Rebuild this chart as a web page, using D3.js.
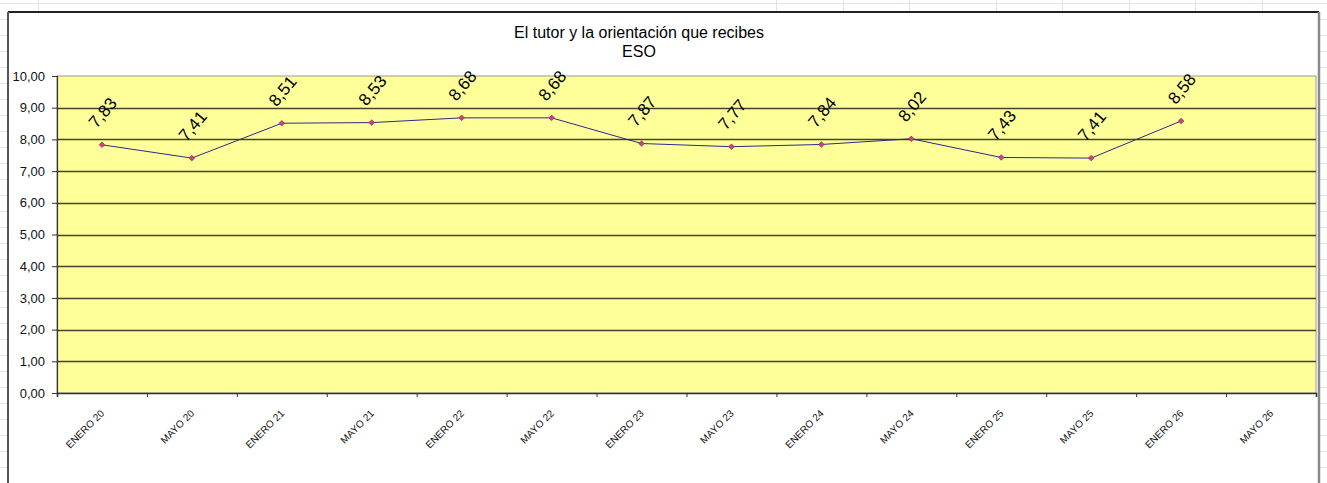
<!DOCTYPE html>
<html lang="es">
<head>
    <meta charset="UTF-8">
    <title>El tutor y la orientación que recibes - ESO</title>
    <script src="https://d3js.org/d3.v7.min.js"></script>
    <style>
        body {
            margin: 0;
            background: #fff;
            overflow: hidden;
        }
        svg text {
            font-family: "Liberation Sans", Arial, sans-serif;
        }
    </style>
</head>
<body>
<div id="chart"></div>

<script>
    const categories = ["ENERO 20", "MAYO 20", "ENERO 21", "MAYO 21", "ENERO 22", "MAYO 22", "ENERO 23",
        "MAYO 23", "ENERO 24", "MAYO 24", "ENERO 25", "MAYO 25", "ENERO 26", "MAYO 26"];
    const values = [7.83, 7.41, 8.51, 8.53, 8.68, 8.68, 7.87, 7.77, 7.84, 8.02, 7.43, 7.41, 8.58];
    const yTicks = [0, 1, 2, 3, 4, 5, 6, 7, 8, 9, 10];
    const titleLines = ["El tutor y la orientación que recibes", "ESO"];

    // spreadsheet cells seen around the chart
    const sheetCols = [38, 776, 843, 909, 996, 1062, 1129, 1195, 1262];

    const width = 1327;
    const height = 483;
    const frame = {left: 8, top: 12, right: 1318};
    const plot = {left: 57, top: 76, right: 1316, bottom: 393};

    const es = d3.formatLocale({decimal: ",", thousands: ".", grouping: [3], currency: ["", "€"]});
    const fmt = es.format(".2f");

    const svg = d3.select("#chart")
        .append("svg")
        .attr("width", width)
        .attr("height", height);

    // ---- spreadsheet background ----
    const sheet = svg.append("g").attr("stroke", "#dfe3ee").attr("stroke-width", 1);
    sheet.append("line")
        .attr("x1", 0).attr("x2", width).attr("y1", 3.5).attr("y2", 3.5);
    sheet.selectAll(".col")
        .data(sheetCols)
        .enter()
        .append("line")
        .attr("x1", d => d + 0.5).attr("x2", d => d + 0.5)
        .attr("y1", 0).attr("y2", frame.top);
    const rows = d3.range(3, height, 16);
    sheet.selectAll(".rowL")
        .data(rows)
        .enter()
        .append("line")
        .attr("x1", 0).attr("x2", frame.left)
        .attr("y1", d => d + 0.5).attr("y2", d => d + 0.5);
    sheet.selectAll(".rowR")
        .data(rows)
        .enter()
        .append("line")
        .attr("x1", frame.right).attr("x2", width)
        .attr("y1", d => d + 0.5).attr("y2", d => d + 0.5);

    // ---- chart area ----
    svg.append("rect")
        .attr("x", frame.left).attr("y", frame.top)
        .attr("width", frame.right - frame.left).attr("height", height - frame.top + 5)
        .attr("fill", "#fff");
    svg.append("line")
        .attr("x1", frame.left).attr("x2", frame.right + 1)
        .attr("y1", frame.top).attr("y2", frame.top)
        .attr("stroke", "#222").attr("stroke-width", 2);
    svg.append("line")
        .attr("x1", frame.left).attr("x2", frame.left)
        .attr("y1", frame.top).attr("y2", height)
        .attr("stroke", "#555").attr("stroke-width", 2);
    svg.append("line")
        .attr("x1", frame.right + 1).attr("x2", frame.right + 1)
        .attr("y1", frame.top).attr("y2", height)
        .attr("stroke", "#8a8a8a").attr("stroke-width", 2.5);

    // title
    svg.append("text")
        .attr("x", 639)
        .attr("text-anchor", "middle")
        .attr("font-size", "16px")
        .attr("fill", "#000")
        .selectAll("tspan")
        .data(titleLines)
        .enter()
        .append("tspan")
        .attr("x", 639)
        .attr("y", (d, i) => 38 + i * 19)
        .text(d => d);

    // scales
    const x = d3.scaleBand()
        .domain(categories)
        .range([plot.left, plot.right]);
    const xEdge = d3.scaleLinear()
        .domain([0, categories.length])
        .range([plot.left, plot.right]);
    const y = d3.scaleLinear()
        .domain([0, 10])
        .range([plot.bottom, plot.top]);

    // plot background
    svg.append("rect")
        .attr("x", plot.left).attr("y", plot.top)
        .attr("width", plot.right - plot.left).attr("height", plot.bottom - plot.top)
        .attr("fill", "#ffff99")
        .attr("stroke", "#9a9a9a")
        .attr("stroke-width", 1);

    // gridlines
    svg.append("g")
        .selectAll("line")
        .data(yTicks.filter(d => d > 0 && d < 10))
        .enter()
        .append("line")
        .attr("x1", plot.left).attr("x2", plot.right)
        .attr("y1", d => Math.round(y(d)) + 0.5).attr("y2", d => Math.round(y(d)) + 0.5)
        .attr("stroke", "#44442a")
        .attr("stroke-width", 1.5);

    // y axis
    const yAxis = svg.append("g")
        .attr("transform", `translate(${plot.left},0)`)
        .call(d3.axisLeft(y).tickValues(yTicks).tickFormat(fmt).tickSize(5).tickPadding(7));
    yAxis.select(".domain").attr("stroke", "#333").attr("stroke-width", 1.2);
    yAxis.selectAll(".tick line").attr("stroke", "#333");
    yAxis.selectAll("text")
        .attr("font-size", "13px")
        .attr("fill", "#111")
        .style("font-family", "'Liberation Sans', Arial, sans-serif");

    // x axis (ticks between categories)
    const xAxis = svg.append("g")
        .attr("transform", `translate(0,${plot.bottom})`)
        .call(d3.axisBottom(xEdge).tickValues(d3.range(categories.length + 1)).tickFormat("").tickSize(4));
    xAxis.select(".domain").attr("stroke", "#333").attr("stroke-width", 1.6);
    xAxis.selectAll(".tick line").attr("stroke", "#333");

    svg.append("g")
        .selectAll("text")
        .data(categories)
        .enter()
        .append("text")
        .attr("transform", d => `translate(${x(d) + x.bandwidth() / 2 + 3},${plot.bottom + 21}) rotate(-45)`)
        .attr("text-anchor", "end")
        .attr("font-size", "10px")
        .attr("fill", "#111")
        .text(d => d);

    // series
    const pts = values.map((v, i) => ({cat: categories[i], v: v}));
    const line = d3.line()
        .x(d => x(d.cat) + x.bandwidth() / 2)
        .y(d => y(d.v));

    svg.append("path")
        .datum(pts)
        .attr("d", line)
        .attr("fill", "none")
        .attr("stroke", "#2a2a88")
        .attr("stroke-width", 1);

    svg.append("g")
        .selectAll("path")
        .data(pts)
        .enter()
        .append("path")
        .attr("transform", d => `translate(${x(d.cat) + x.bandwidth() / 2},${y(d.v)})`)
        .attr("d", d3.symbol().type(d3.symbolDiamond2).size(20))
        .attr("fill", "#d0407a")
        .attr("stroke", "#7a2060")
        .attr("stroke-width", 0.6);

    // data labels
    svg.append("g")
        .selectAll("text")
        .data(pts)
        .enter()
        .append("text")
        .attr("transform", d => `translate(${x(d.cat) + x.bandwidth() / 2 + 1},${y(d.v) - 32}) rotate(-50)`)
        .attr("text-anchor", "middle")
        .attr("dominant-baseline", "central")
        .attr("font-size", "17px")
        .attr("fill", "#000")
        .text(d => fmt(d.v));
</script>
</body>
</html>
